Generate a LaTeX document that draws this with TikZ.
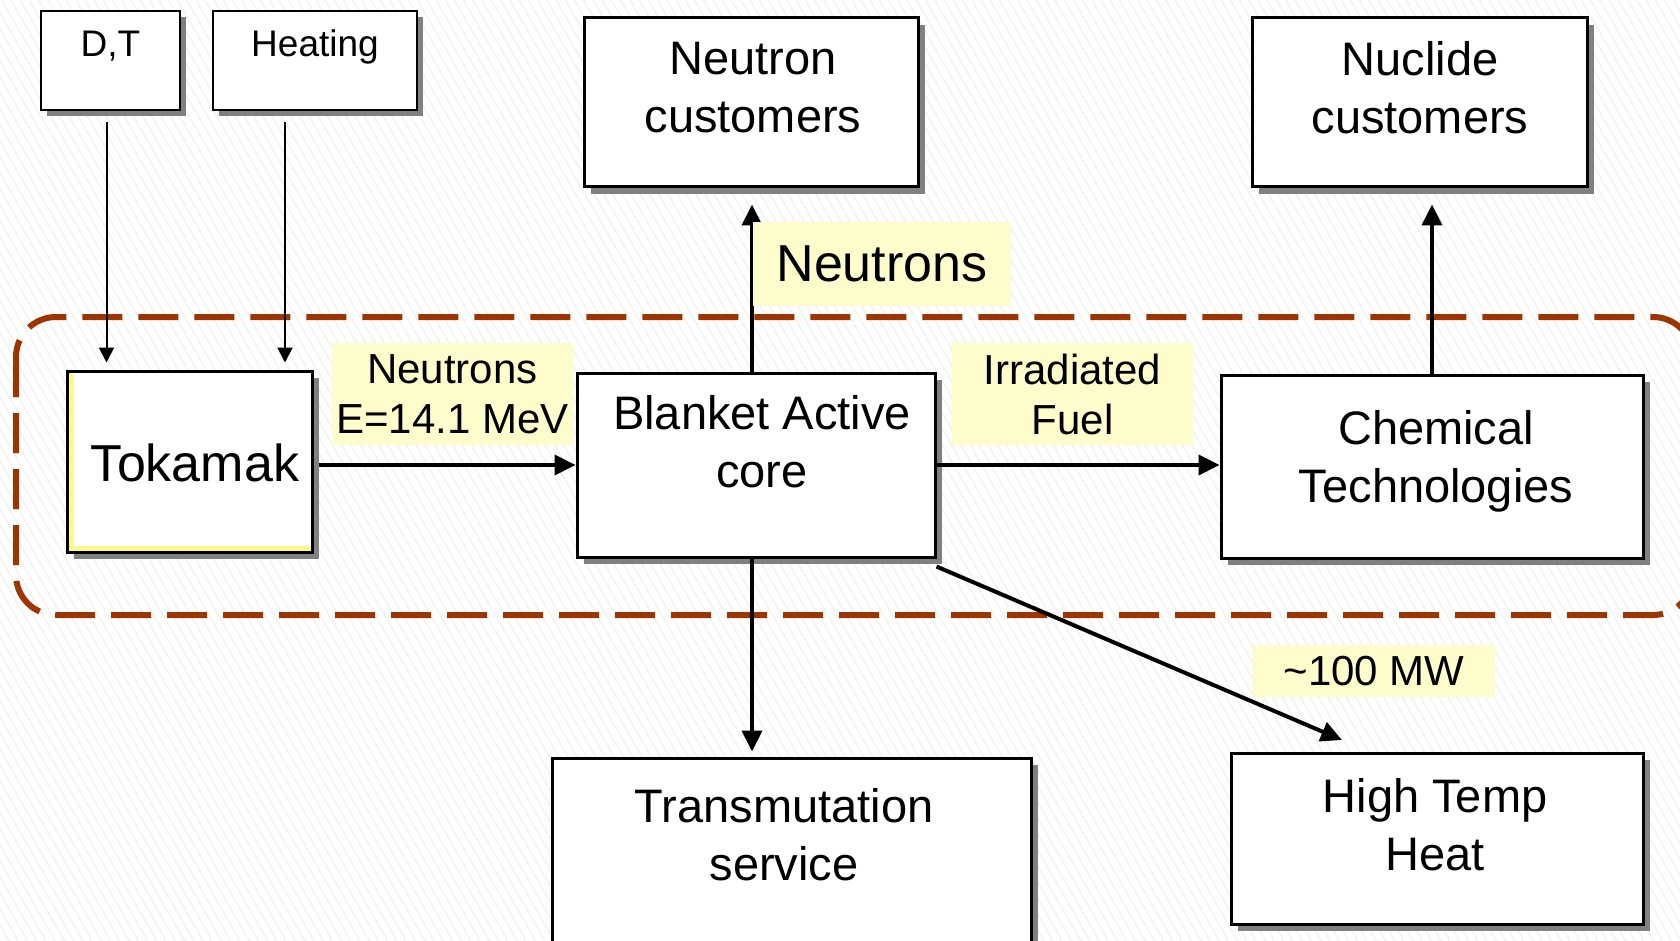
\documentclass[tikz,border=0pt]{standalone}
\usepackage{fontspec}
\setmainfont{Liberation Sans}
\usetikzlibrary{arrows.meta,shadows,patterns.meta,positioning}
\tikzset{>={Triangle[length=21pt,width=20pt]}}
\colorlet{noteFill}{yellow!20}
\definecolor{zoneColor}{RGB}{158,52,0}
\colorlet{shadeColor}{black!50}
\newcommand{\boxfont}{\fontsize{47}{58}\selectfont}
\newcommand{\noteFont}{\fontsize{42}{50}\selectfont}
\newcommand{\bigFont}{\fontsize{52}{60}\selectfont}
\newcommand{\smallFont}{\fontsize{37}{44}\selectfont}
\tikzset{
  box/.style={draw, line width=3pt, fill=white, inner sep=0pt,
    drop shadow={shadow xshift=7pt, shadow yshift=-7pt, fill=shadeColor, opacity=1}},
  smallbox/.style={draw, line width=2.5pt, fill=white, inner sep=0pt,
    drop shadow={shadow xshift=6pt, shadow yshift=-6pt, fill=shadeColor, opacity=1}},
  boxtext/.style={align=center, inner sep=0pt, font=\boxfont},
  note/.style={fill=noteFill, align=center, inner sep=0pt, font=\noteFont},
  flow/.style={->, line width=4pt},
  feed/.style={-{Triangle[length=15pt,width=15pt]}, line width=2pt},
  zone/.style={zoneColor, line width=6pt, dash pattern=on 40pt off 16pt, rounded corners=40pt}
}

\begin{document}
\begin{tikzpicture}[x=1pt,y=-1pt]
\useasboundingbox (0,0) rectangle (1680,941);
\clip (0,0) rectangle (1680,941);
\fill[white] (0,0) rectangle (1680,941);
\fill[pattern={Lines[angle=120,distance=8pt,line width=1.2pt]}, pattern color=black!6] (0,0) rectangle (1680,941);
\draw[zone] (16,317) rectangle (1693,615);% dashed zone round the core
% boxes
\node[smallbox, minimum width=139pt, minimum height=99pt] (dt) at (110.5,60.5) {};
\node[smallbox, minimum width=204pt, minimum height=99pt] (heat) at (315,60.5) {};
\node[box, minimum width=334pt, minimum height=169pt] (neut) at (751,102.5) {};
\node[box, minimum width=335pt, minimum height=169pt] (nucl) at (1419.5,102.5) {};
\node[box, minimum width=245pt, minimum height=181pt, fill=yellow!45,
  path picture={\fill[white] ([xshift=7pt,yshift=6pt]path picture bounding box.south west) rectangle (path picture bounding box.north east);}] (tok) at (189.5,461.5) {};
\node[box, minimum width=358pt, minimum height=184pt] (blanket) at (756,465) {};
\node[box, minimum width=422pt, minimum height=183pt] (chem) at (1432,466.5) {};
\node[box, minimum width=479pt, minimum height=202pt] (trans) at (791.5,859) {};
\node[box, minimum width=412pt, minimum height=171pt] (hot) at (1437,838.5) {};
% box texts
\node[anchor=base, inner sep=0pt, font=\smallFont] (dtText) at (110.5,57) {D,T};
\node[anchor=base, inner sep=0pt, font=\smallFont] (heatText) at (315,57) {Heating};
\node[boxtext] (neutText) at (753,87.5) {Neutron\\customers};
\node[boxtext] (nuclText) at (1420,87.5) {Nuclide\\customers};
\node[inner sep=0pt, font=\bigFont] (tokText) at (195,463) {Tokamak};
\node[boxtext] (blanketText) at (762,442) {Blanket Active\\core};
\node[boxtext] (chemText) at (1436,461.5) {Chemical\\Technologies};
\node[boxtext] (transText) at (784,835) {Transmutation\\service};
\node[boxtext] (hotText) at (1435,825) {High Temp\\Heat};
% connectors
\coordinate (hotIn) at (1342,740);
\draw[feed, shorten <=11pt, shorten >=7pt] ([xshift=-4pt]dt.south) -- ([xshift=-4pt]dt.south |- tok.north);
\draw[feed, shorten <=11pt, shorten >=7pt] ([xshift=-30pt]heat.south) -- ([xshift=-30pt]heat.south |- tok.north);
\draw[flow, shorten <=5pt] (tok.east |- blanket.west) -- (blanket.west);
\draw[flow, shorten >=16pt] ([xshift=-4pt]blanket.north) -- ([xshift=-4pt]blanket.north |- neut.south);
\draw[flow] (blanket.east) -- (blanket.east -| chem.west);
\draw[flow, shorten >=16pt] (chem.north) -- (chem.north |- nucl.south);
\draw[flow, shorten >=5pt] ([xshift=-4pt]blanket.south) -- ([xshift=-4pt]blanket.south |- trans.north);
\draw[flow] ([yshift=-8pt]blanket.south east) -- (hotIn);
% labels
\node[note, minimum width=241pt, minimum height=102pt] (fusionNote) at (452.5,394) {Neutrons\\E=14.1 MeV};
\node[note, minimum width=258pt, minimum height=84pt, font=\bigFont] (neutNote) at (882,264) {Neutrons};
\node[note, minimum width=241pt, minimum height=102pt] (fuelNote) at (1072.5,394) {Irradiated\\Fuel};
\node[note, minimum width=242pt, minimum height=52pt] (powerNote) at (1374,671) {\textasciitilde100 MW};
\end{tikzpicture}
\end{document}
